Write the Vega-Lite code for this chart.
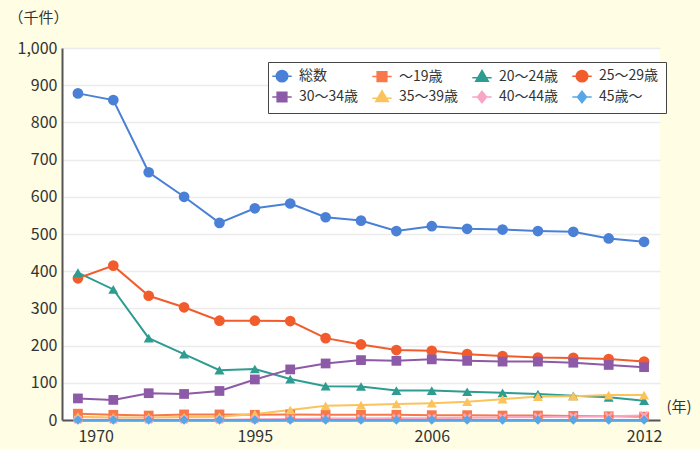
{
  "$schema": "https://vega.github.io/schema/vega-lite/v6.json",
  "width": 598,
  "height": 372,
  "autosize": "none",
  "padding": {"left": 62, "top": 48, "right": 40, "bottom": 29},
  "background": "#fffde3",
  "config": {
    "view": {"fill": "white", "stroke": null},
    "font": "Noto Sans CJK JP"
  },
  "datasets": {
    "d": [
      {"year":"1970","group":"総数","value":878},{"year":"1975","group":"総数","value":860},{"year":"1980","group":"総数","value":666},{"year":"1985","group":"総数","value":600},{"year":"1990","group":"総数","value":530},{"year":"1995","group":"総数","value":569},{"year":"2000","group":"総数","value":582},{"year":"2003","group":"総数","value":545},{"year":"2004","group":"総数","value":536},{"year":"2005","group":"総数","value":508},{"year":"2006","group":"総数","value":521},{"year":"2007","group":"総数","value":514},{"year":"2008","group":"総数","value":512},{"year":"2009","group":"総数","value":508},{"year":"2010","group":"総数","value":506},{"year":"2011","group":"総数","value":488},{"year":"2012","group":"総数","value":479},
      {"year":"1970","group":"～19歳","value":17},{"year":"1975","group":"～19歳","value":14},{"year":"1980","group":"～19歳","value":12},{"year":"1985","group":"～19歳","value":15},{"year":"1990","group":"～19歳","value":15},{"year":"1995","group":"～19歳","value":14},{"year":"2000","group":"～19歳","value":15},{"year":"2003","group":"～19歳","value":14},{"year":"2004","group":"～19歳","value":14},{"year":"2005","group":"～19歳","value":14},{"year":"2006","group":"～19歳","value":13},{"year":"2007","group":"～19歳","value":13},{"year":"2008","group":"～19歳","value":12},{"year":"2009","group":"～19歳","value":12},{"year":"2010","group":"～19歳","value":11},{"year":"2011","group":"～19歳","value":10},{"year":"2012","group":"～19歳","value":9},
      {"year":"1970","group":"20～24歳","value":396},{"year":"1975","group":"20～24歳","value":351},{"year":"1980","group":"20～24歳","value":220},{"year":"1985","group":"20～24歳","value":177},{"year":"1990","group":"20～24歳","value":134},{"year":"1995","group":"20～24歳","value":137},{"year":"2000","group":"20～24歳","value":110},{"year":"2003","group":"20～24歳","value":91},{"year":"2004","group":"20～24歳","value":90},{"year":"2005","group":"20～24歳","value":79},{"year":"2006","group":"20～24歳","value":79},{"year":"2007","group":"20～24歳","value":76},{"year":"2008","group":"20～24歳","value":73},{"year":"2009","group":"20～24歳","value":70},{"year":"2010","group":"20～24歳","value":65},{"year":"2011","group":"20～24歳","value":61},{"year":"2012","group":"20～24歳","value":52},
      {"year":"1970","group":"25～29歳","value":381},{"year":"1975","group":"25～29歳","value":415},{"year":"1980","group":"25～29歳","value":334},{"year":"1985","group":"25～29歳","value":303},{"year":"1990","group":"25～29歳","value":267},{"year":"1995","group":"25～29歳","value":267},{"year":"2000","group":"25～29歳","value":266},{"year":"2003","group":"25～29歳","value":220},{"year":"2004","group":"25～29歳","value":203},{"year":"2005","group":"25～29歳","value":188},{"year":"2006","group":"25～29歳","value":186},{"year":"2007","group":"25～29歳","value":177},{"year":"2008","group":"25～29歳","value":172},{"year":"2009","group":"25～29歳","value":168},{"year":"2010","group":"25～29歳","value":167},{"year":"2011","group":"25～29歳","value":164},{"year":"2012","group":"25～29歳","value":157},
      {"year":"1970","group":"30～34歳","value":58},{"year":"1975","group":"30～34歳","value":54},{"year":"1980","group":"30～34歳","value":72},{"year":"1985","group":"30～34歳","value":70},{"year":"1990","group":"30～34歳","value":78},{"year":"1995","group":"30～34歳","value":109},{"year":"2000","group":"30～34歳","value":136},{"year":"2003","group":"30～34歳","value":152},{"year":"2004","group":"30～34歳","value":161},{"year":"2005","group":"30～34歳","value":159},{"year":"2006","group":"30～34歳","value":163},{"year":"2007","group":"30～34歳","value":159},{"year":"2008","group":"30～34歳","value":157},{"year":"2009","group":"30～34歳","value":157},{"year":"2010","group":"30～34歳","value":154},{"year":"2011","group":"30～34歳","value":148},{"year":"2012","group":"30～34歳","value":142},
      {"year":"1970","group":"35～39歳","value":9},{"year":"1975","group":"35～39歳","value":7},{"year":"1980","group":"35～39歳","value":7},{"year":"1985","group":"35～39歳","value":8},{"year":"1990","group":"35～39歳","value":9},{"year":"1995","group":"35～39歳","value":16},{"year":"2000","group":"35～39歳","value":27},{"year":"2003","group":"35～39歳","value":38},{"year":"2004","group":"35～39歳","value":40},{"year":"2005","group":"35～39歳","value":43},{"year":"2006","group":"35～39歳","value":45},{"year":"2007","group":"35～39歳","value":49},{"year":"2008","group":"35～39歳","value":56},{"year":"2009","group":"35～39歳","value":63},{"year":"2010","group":"35～39歳","value":64},{"year":"2011","group":"35～39歳","value":67},{"year":"2012","group":"35～39歳","value":67},
      {"year":"1970","group":"40～44歳","value":1},{"year":"1975","group":"40～44歳","value":1},{"year":"1980","group":"40～44歳","value":1},{"year":"1985","group":"40～44歳","value":1},{"year":"1990","group":"40～44歳","value":1},{"year":"1995","group":"40～44歳","value":2},{"year":"2000","group":"40～44歳","value":3},{"year":"2003","group":"40～44歳","value":4},{"year":"2004","group":"40～44歳","value":4},{"year":"2005","group":"40～44歳","value":5},{"year":"2006","group":"40～44歳","value":5},{"year":"2007","group":"40～44歳","value":6},{"year":"2008","group":"40～44歳","value":7},{"year":"2009","group":"40～44歳","value":8},{"year":"2010","group":"40～44歳","value":9},{"year":"2011","group":"40～44歳","value":10},{"year":"2012","group":"40～44歳","value":12},
      {"year":"1970","group":"45歳～","value":0},{"year":"1975","group":"45歳～","value":0},{"year":"1980","group":"45歳～","value":0},{"year":"1985","group":"45歳～","value":0},{"year":"1990","group":"45歳～","value":0},{"year":"1995","group":"45歳～","value":0},{"year":"2000","group":"45歳～","value":0},{"year":"2003","group":"45歳～","value":0},{"year":"2004","group":"45歳～","value":0},{"year":"2005","group":"45歳～","value":0},{"year":"2006","group":"45歳～","value":0},{"year":"2007","group":"45歳～","value":0},{"year":"2008","group":"45歳～","value":0},{"year":"2009","group":"45歳～","value":0},{"year":"2010","group":"45歳～","value":0},{"year":"2011","group":"45歳～","value":0},{"year":"2012","group":"45歳～","value":0}
    ]
  },
  "data": {"name": "d"},
  "encoding": {
    "x": {
      "field": "year", "type": "ordinal", "sort": null,
      "scale": {"type": "point", "padding": 0.45},
      "axis": {
        "values": ["1970", "1995", "2006", "2012"],
        "title": "(年)", "titleX": 604, "titleY": -14, "titleAlign": "left", "titleBaseline": "middle",
        "titleFontSize": 15, "titleFontWeight": "normal", "titleColor": "#333",
        "labelFontSize": 16, "labelColor": "#333", "labelPadding": 8,
        "labelAlign": {"condition": {"test": "datum.value == '1970'", "value": "left"}, "value": "center"},
        "labelAngle": 0,
        "ticks": false, "grid": false, "domainColor": "#555", "domainWidth": 2
      }
    },
    "y": {
      "field": "value", "type": "quantitative",
      "scale": {"domain": [0, 1000], "nice": false},
      "axis": {
        "values": [0, 100, 200, 300, 400, 500, 600, 700, 800, 900, 1000],
        "format": ",d",
        "title": "（千件）", "titleAngle": 0, "titleX": -54, "titleY": -31, "titleAlign": "left", "titleBaseline": "middle",
        "titleFontSize": 15, "titleFontWeight": "normal", "titleColor": "#333",
        "labelFontSize": 16, "labelColor": "#333", "labelPadding": 5,
        "ticks": false, "domainColor": "#555", "domainWidth": 2,
        "grid": true, "gridColor": "#ececec", "gridWidth": 1.5
      }
    }
  },
  "layer": [
    {
      "mark": {"type": "line", "strokeWidth": 2},
      "encoding": {
        "color": {
          "field": "group", "type": "nominal",
          "scale": {
            "domain": ["総数", "～19歳", "20～24歳", "25～29歳", "30～34歳", "35～39歳", "40～44歳", "45歳～"],
            "range": ["#4a80d6", "#f7784a", "#2e9c90", "#f25c2c", "#8d5aa7", "#fbc35c", "#f8a5c6", "#57a7e6"]
          },
          "legend": {
            "orient": "none", "legendX": 206, "legendY": 14,
            "columns": 4, "direction": "horizontal", "title": null,
            "strokeColor": "#444", "fillColor": "white", "padding": 7,
            "labelFontSize": 14, "labelColor": "#333", "labelOffset": 10,
            "symbolSize": 130, "columnPadding": 10, "rowPadding": 2, "gridAlign": "all",
            "symbolOpacity": 1,
            "symbolStrokeWidth": 1.5,
            "symbolFillColor": {"expr": "scale('color', datum.value)"},
            "symbolType": {"expr": "(datum.value === '総数' || datum.value === '25～29歳') ? 'M-1.7,0H1.7M-1,0A1,1 0 1,0 1,0A1,1 0 1,0 -1,0Z' : (datum.value === '～19歳' || datum.value === '30～34歳') ? 'M-1.7,0H1.7M-0.85,-0.85H0.85V0.85H-0.85Z' : (datum.value === '20～24歳' || datum.value === '35～39歳') ? 'M-1.7,0.2H1.7M0,-1.1L1.1,0.8H-1.1Z' : 'M-1.7,0H1.7M0,-1L0.8,0L0,1L-0.8,0Z'"}
          }
        }
      }
    },
    {
      "transform": [{"filter": {"field": "group", "oneOf": ["総数", "25～29歳"]}}],
      "mark": {"type": "point", "filled": true, "opacity": 1, "size": 115, "shape": "circle"},
      "encoding": {"color": {"field": "group", "type": "nominal", "legend": null}}
    },
    {
      "transform": [{"filter": {"field": "group", "oneOf": ["～19歳", "30～34歳"]}}],
      "mark": {"type": "point", "filled": true, "opacity": 1, "size": 95, "shape": "square"},
      "encoding": {"color": {"field": "group", "type": "nominal", "legend": null}}
    },
    {
      "transform": [{"filter": {"field": "group", "oneOf": ["20～24歳", "35～39歳"]}}],
      "mark": {"type": "point", "filled": true, "opacity": 1, "size": 100, "shape": "triangle-up"},
      "encoding": {"color": {"field": "group", "type": "nominal", "legend": null}}
    },
    {
      "transform": [{"filter": {"field": "group", "oneOf": ["40～44歳"]}}],
      "mark": {"type": "point", "filled": true, "opacity": 1, "size": 80, "shape": "M-1,-0.6L-0.6,-1L0,-0.4L0.6,-1L1,-0.6L0.4,0L1,0.6L0.6,1L0,0.4L-0.6,1L-1,0.6L-0.4,0Z"},
      "encoding": {"color": {"field": "group", "type": "nominal", "legend": null}}
    },
    {
      "transform": [{"filter": {"field": "group", "oneOf": ["45歳～"]}}],
      "mark": {"type": "point", "filled": true, "opacity": 1, "size": 90, "shape": "diamond"},
      "encoding": {"color": {"field": "group", "type": "nominal", "legend": null}}
    }
  ]
}
